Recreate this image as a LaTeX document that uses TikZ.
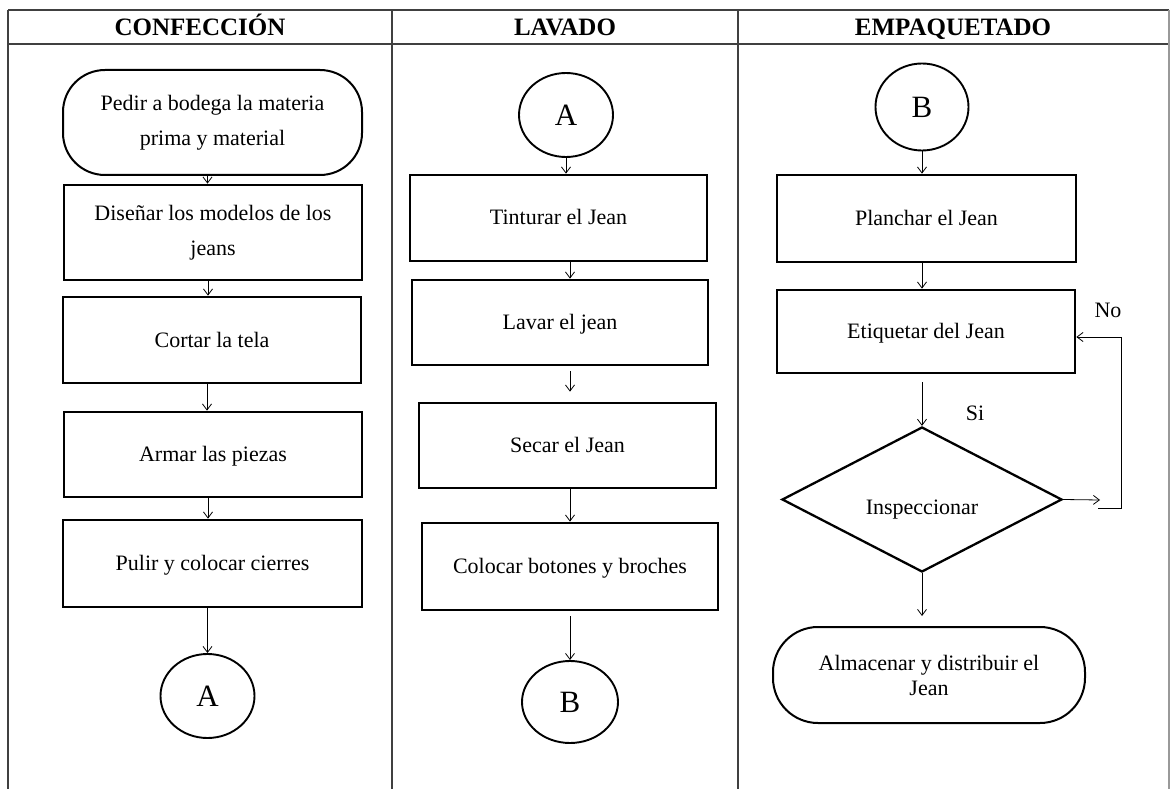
\documentclass[tikz,border=0pt]{standalone}
\usepackage{fontspec}
\setmainfont{Liberation Serif}
\usetikzlibrary{shapes.geometric,arrows.meta}
\begin{document}
\begin{tikzpicture}[x=1pt,y=-1pt,
  every node/.style={font=\fontsize{22}{35}\selectfont, align=center, inner sep=0pt},
  oneline/.style={text height=17pt, text depth=3pt},
  procbox/.style={draw, line width=2.8pt, rectangle, oneline},
  termbox/.style={draw, line width=2pt, rounded corners=42pt, rectangle},
  connector/.style={draw, line width=1.9pt, ellipse, font=\fontsize{31}{36}\selectfont},
  decision/.style={draw, line width=2.3pt, diamond, text height=30pt, text depth=0pt},
  arr/.style={line width=0.8pt, -{Straight Barb[length=6pt,width=9pt]}},
  head/.style={font=\fontsize{25}{30}\selectfont\bfseries, anchor=base},
  grid/.style={line width=1.2pt, black!75}]

\useasboundingbox (0,0) rectangle (1171,789);

% swimlane table
\draw[grid, line width=1.6pt] (8,10) -- (1169,10);
\draw[grid, line width=1.6pt] (8,44) -- (1169,44);
\draw[grid] (8,10) -- (8,789);
\draw[grid] (392,10) -- (392,789);
\draw[grid] (738,10) -- (738,789);
\draw[grid, black!40] (1169,10) -- (1169,789);

\node[head] (h1) at (200,36) {CONFECCIÓN};
\node[head] (h2) at (565,36) {LAVADO};
\node[head] (h3) at (953,36) {EMPAQUETADO};

% CONFECCIÓN
\node[termbox, minimum width=299pt, minimum height=105pt] (t1) at (212.5,122.5) {Pedir a bodega la materia\\ prima y material};
\node[draw, line width=2.8pt, rectangle, minimum width=298pt, minimum height=95pt] (c1) at (213,232.5) {Diseñar los modelos de los\\ jeans};
\node[procbox, minimum width=298pt, minimum height=86pt] (c2) at (212,340) {Cortar la tela};
\node[procbox, minimum width=298pt, minimum height=85pt] (c3) at (213,454.5) {Armar las piezas};
\node[procbox, minimum width=299pt, minimum height=87pt] (c4) at (212.5,563.5) {Pulir y colocar cierres};
\node[connector, minimum width=94pt, minimum height=84pt] (cA) at (207.5,696) {A};

\draw[arr] ([xshift=-5pt]t1.south) -- ([xshift=-5pt]t1.south |- c1.north);
\draw[arr] ([xshift=-5pt]c1.south) -- ([xshift=-5pt]c1.south |- c2.north);
\draw[arr] ([xshift=-5pt]c2.south) -- ([xshift=-5pt]c2.south |- c3.north);
\draw[arr] ([xshift=-5pt]c3.south) -- ([xshift=-5pt]c3.south |- c4.north);
\draw[arr] (c4.south -| cA) -- (cA.north);

% LAVADO
\node[connector, minimum width=94pt, minimum height=84pt] (lA) at (566,115) {A};
\node[procbox, minimum width=297pt, minimum height=86pt] (l1) at (558.5,218) {Tinturar el Jean};
\node[procbox, minimum width=296pt, minimum height=85pt] (l2) at (560,322.5) {Lavar el jean};
\node[procbox, minimum width=297pt, minimum height=85pt] (l3) at (567.5,445.5) {Secar el Jean};
\node[procbox, minimum width=296pt, minimum height=87pt] (l4) at (570,566.5) {Colocar botones y broches};
\node[connector, minimum width=96pt, minimum height=82pt] (lB) at (570,702) {B};

\draw[arr] (lA.south) -- (lA.south |- l1.north);
\draw[arr] (l1.south -| lB) -- (l2.north -| lB);
\draw[arr] ([yshift=-5pt]l2.south -| lB) -- ([yshift=10pt]l3.north -| lB);
\draw[arr] (l3.south -| lB) -- (l4.north -| lB);
\draw[arr] ([yshift=-5pt]l4.south -| lB) -- (lB.north);

% EMPAQUETADO
\node[connector, minimum width=93pt, minimum height=87pt] (eB) at (922,107) {B};
\node[procbox, minimum width=299pt, minimum height=87pt] (e1) at (926.5,218.5) {Planchar el Jean};
\node[procbox, minimum width=298pt, minimum height=83pt] (e2) at (926,331.5) {Etiquetar del Jean};
\node[decision, minimum width=280pt, minimum height=145pt] (d) at (922,499.5) {Inspeccionar};
\node[termbox, rounded corners=45pt, minimum width=312pt, minimum height=96pt,
      font=\fontsize{22}{25}\selectfont] (e3) at (929,675) {Almacenar y distribuir el\\ Jean};

\draw[arr] (eB.south) -- (eB.south |- e1.north);
\draw[arr] (e1.south -| eB) -- (e2.north -| eB);
\draw[arr] ([yshift=-8pt]e2.south -| d) -- (d.north);
\draw[arr] (d.south) -- ([yshift=10pt]e3.north -| d);

\node (si) at (975,413) {Si};
\node (no) at (1108,310) {No};

% rejection loop back to labelling
\coordinate (noA) at (1100,500);
\coordinate (noB) at (1098,508);
\coordinate (noC) at (1121,508);
\coordinate (noD) at (1121,337);
\draw[arr] (d.east) -- (noA);
\draw[arr] (noB) -- (noC) -- (noD) -- (e2.east |- noD);

\end{tikzpicture}
\end{document}
